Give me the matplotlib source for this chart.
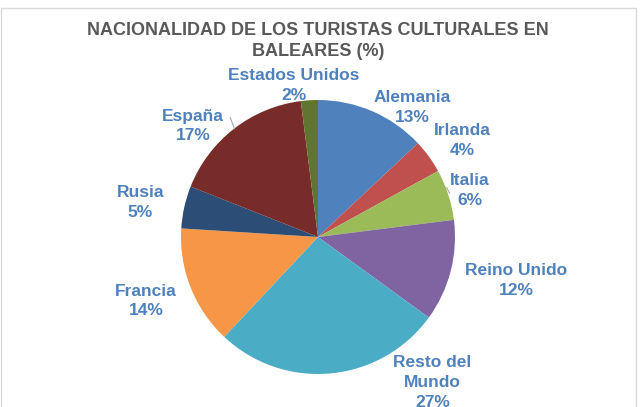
import matplotlib.pyplot as plt
import numpy as np
from matplotlib.patches import Rectangle

# Data
paises = ['Alemania', 'Irlanda', 'Italia', 'Reino Unido', 'Resto del\nMundo',
          'Francia', 'Rusia', 'España', 'Estados Unidos']
porcentajes = [13, 4, 6, 12, 27, 14, 5, 17, 2]
colores = ['#4F81BD', '#C0504D', '#9BBB59', '#8064A2', '#4BACC6',
           '#F79646', '#2C4D75', '#772C2A', '#5F7530']

# label placement (angle in degrees, distance in radii)
label_pos = [(54, 1.17), (33.8, 1.27), (17, 1.16), (-12.5, 1.48), (-51.8, 1.35),
             (200.4, 1.34), (169, 1.32), (138.4, 1.22), (99, 1.12)]

plt.rcParams['font.family'] = ['Liberation Sans', 'DejaVu Sans']

W, H = 642, 407
fig = plt.figure(figsize=(W / 100, H / 100), dpi=100)

# chart border
fig.patches.append(Rectangle((0.5 / W, -0.01), (636 - 0.5) / W, (H - 8) / H + 0.01,
                             transform=fig.transFigure, fill=False,
                             edgecolor='#D9D9D9', linewidth=1))

cx, cy, r = 318, 237, 137
ax = fig.add_axes([(cx - r) / W, (H - cy - r) / H, 2 * r / W, 2 * r / H])
ax.pie(porcentajes, colors=colores, startangle=90, counterclock=False,
       radius=1, wedgeprops=dict(linewidth=0))
ax.set_xlim(-1, 1)
ax.set_ylim(-1, 1)
ax.set_aspect('auto')
ax.axis('off')

for name, val, (ang, dist) in zip(paises, porcentajes, label_pos):
    t = np.deg2rad(ang)
    ax.text(dist * np.cos(t), dist * np.sin(t), f'{name}\n{val}%',
            ha='center', va='center', fontsize=12.5, fontweight='bold',
            color='#4F81BD', linespacing=1.4, clip_on=False)

# leader lines
ax.plot([-0.64, -0.61], [0.87, 0.79], color='#A6A6A6', lw=0.8, clip_on=False)
ax.plot([0.94, 0.96], [0.36, 0.32], color='#A6A6A6', lw=0.8, clip_on=False)

fig.text(cx / W, 1 - 41 / H, 'NACIONALIDAD DE LOS TURISTAS CULTURALES EN\nBALEARES (%)',
         ha='center', va='center', fontsize=13, fontweight='bold',
         color='#595959', linespacing=1.25)

fig.savefig('out.png', dpi=100)
